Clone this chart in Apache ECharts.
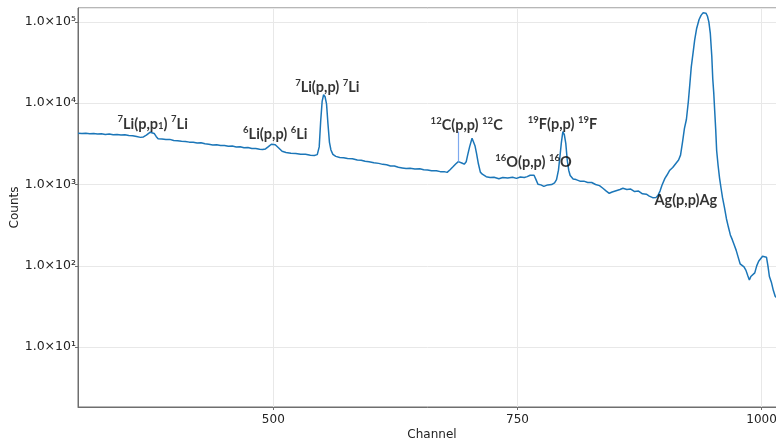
<!DOCTYPE html>
<html>
<head>
<meta charset="utf-8">
<script src="https://cdn.jsdelivr.net/npm/echarts@6/dist/echarts.min.js"></script>
<style>html,body{margin:0;padding:0;background:#fff}#c{width:776px;height:441px}</style>
</head>
<body>
<div id="c"></div>
<script>
// Spectrum data
var channels = [300,304,308,312,316,320,324,328,332,336,340,344,348,352,356,360,364,367,370,372,374,376,378,380,382,386,390,394,398,402,406,410,414,418,422,426,430,434,438,442,446,450,454,458,462,466,470,474,478,482,486,489,492,495,498,500,502,505,509,513,518,523,528,533,538,542,545,547,548.5,550,551.5,553,554.5,556,557.5,559,561,564,568,572,576,581,586,590,594,598,603,608,612,616,620,624,628,632,636,640,645,650,654,658,662,667,671,675,678,681,684,687,689.5,691,693,695.5,697.5,699,701,703.5,705,706.5,708,710,712,714,718,722,726,731,735,740,745,749,753,757,760,763,765,767,769,771,774,777,781,785,788,790,792,793.5,795,796.5,798,799.5,801,802.5,804,807,810,814,818,822,826,830,834,837.5,841,844,847,851,855,858,862,866,870,874,878,882,885,888.5,892,894,896,898,901,903,906,909,912,915,917,919,921,923,925,926.5,928,930,931.5,933.5,936,938,940,941.5,943,944.5,946,947.5,949,950,951,952,953,954,955.5,957,958.5,960,962,964,966,968,970,972,974,976,978,980,982,984,986,987.5,989,991,993,995,997,999,1001,1003,1005,1006.5,1008,1010,1012,1014,1016,1020,1025];
var counts = [4280,4240,4270,4220,4250,4170,4200,4130,4180,4090,4120,4050,4090,4000,3990,3900,3800,3850,4050,4250,4400,4420,4250,3900,3660,3640,3580,3590,3470,3460,3400,3390,3320,3310,3250,3260,3170,3130,3070,3090,3010,3020,2950,2970,2900,2910,2830,2850,2780,2770,2710,2690,2740,2920,3130,3170,3090,2850,2560,2480,2420,2410,2360,2350,2290,2280,2330,2900,6000,10500,12700,12000,9800,5500,3300,2660,2350,2220,2150,2140,2090,2080,2000,1990,1930,1900,1850,1820,1770,1750,1690,1690,1630,1600,1570,1580,1550,1560,1520,1510,1480,1480,1440,1440,1410,1520,1650,1800,1910,1900,1840,1780,1900,2300,2900,3710,3550,3000,2450,1800,1420,1340,1250,1220,1230,1180,1220,1200,1230,1190,1240,1220,1250,1300,1340,1300,1150,1010,990,950,990,1000,1050,1150,1500,2200,3300,4480,4100,3200,2000,1500,1290,1170,1150,1100,1100,1060,1060,1000,970,900,830,780,810,840,870,900,870,880,820,830,770,760,720,690,695,740,830,980,1190,1300,1500,1620,1800,2000,2300,3300,4900,6300,10500,17000,28000,43000,60000,83000,107000,120000,129000,131500,128000,118000,100000,72000,38000,20000,13500,8000,4800,2600,1700,1190,900,690,520,380,300,240,210,180,155,128,106,103,97,88,75,67,74,71,82,100,114,112,131,127,128,100,74,63,50,42,40,37,35];

// Axis ticks
var xTicks = [500, 750, 1000];
var yMin = 1.84, yMax = 148000;
var xMin = 300, xMax = 1025;

// Annotations (rich text) and their anchor in data coordinates
var annotationText = [
  '{s|7}{b|Li(p,p}{d|1}{b|) }{s|7}{b|Li}',
  '{s|6}{b|Li(p,p) }{s|6}{b|Li}',
  '{s|7}{b|Li(p,p) }{s|7}{b|Li}',
  '{s|12}{b|C(p,p) }{s|12}{b|C}',
  '{s|16}{b|O(p,p) }{s|16}{b|O}',
  '{s|19}{b|F(p,p) }{s|19}{b|F}',
  '{b|Ag(p,p)Ag}'
];
var annotationChannel = [376.5, 502, 555.3, 698, 766.4, 796.1, 922.4];
var annotationCounts  = [5730, 4280, 16070, 5420, 1910, 5680, 656];

// Pointer line for the 12C label
var pointerChannel = 689.5;
var pointerCounts = [1910, 4480];

var sup = {'0':'⁰','1':'¹','2':'²','3':'³','4':'⁴','5':'⁵','6':'⁶','7':'⁷','8':'⁸','9':'⁹'};

var spectrum = channels.map(function (c, i) { return [c, counts[i]]; });
var notes = annotationText.map(function (t, i) {
  return { value: [annotationChannel[i], annotationCounts[i]], label: { formatter: t } };
});

var chart = echarts.init(document.getElementById('c'), null, { renderer: 'canvas' });
var font = 'DejaVu Sans';
var lf = 'Lato';
chart.setOption({
  animation: false,
  backgroundColor: '#fff',
  grid: { left: 78, right: -10, top: 8, bottom: 34, outerBoundsMode: 'none', containLabel: false, show: true, borderColor: '#6e6e6e', borderWidth: 1, backgroundColor: 'transparent' },
  xAxis: {
    type: 'value', min: xMin, max: xMax,
    name: 'Channel', nameLocation: 'middle', nameGap: 22, nameMoveOverlap: false,
    nameTextStyle: { fontFamily: font, fontSize: 12, color: '#222', verticalAlign: 'top' },
    axisLine: { show: true, lineStyle: { color: '#6e6e6e', width: 1 } },
    axisTick: { show: true, length: 3, customValues: xTicks, lineStyle: { color: '#6e6e6e' } },
    axisLabel: { customValues: xTicks, margin: 7, fontFamily: font, fontSize: 12, color: '#222', formatter: function (v) { return String(v); } },
    splitLine: { show: true, lineStyle: { color: '#e8e8e8', width: 1 } }
  },
  yAxis: {
    type: 'log', logBase: 10, min: yMin, max: yMax,
    name: 'Counts', nameLocation: 'middle', nameGap: 57, nameRotate: 90, nameMoveOverlap: false,
    nameTextStyle: { fontFamily: font, fontSize: 12, color: '#222' },
    axisLine: { show: true, lineStyle: { color: '#6e6e6e', width: 1 } },
    axisTick: { show: true, length: 3, lineStyle: { color: '#6e6e6e' } },
    axisLabel: {
      margin: 2, fontFamily: font, fontSize: 12.5, color: '#222',
      showMinLabel: false, showMaxLabel: false,
      formatter: function (v) {
        var l = Math.log10(v), n = Math.round(l);
        if (Math.abs(l - n) > 1e-6) return '';
        return '1.0×10' + String(n).split('').map(function (d) { return sup[d]; }).join('');
      }
    },
    splitLine: { show: true, lineStyle: { color: '#e8e8e8', width: 1 } }
  },
  series: [
    {
      type: 'line', data: spectrum, showSymbol: false, symbol: 'none',
      lineStyle: { color: '#1b76b8', width: 1.5 }, z: 3,
      markLine: {
        silent: true, symbol: 'none', label: { show: false },
        lineStyle: { color: '#7fa9ee', width: 1.2, type: 'solid' },
        data: [[{ coord: [pointerChannel, pointerCounts[0]] }, { coord: [pointerChannel, pointerCounts[1]] }]]
      }
    },
    {
      type: 'scatter', data: notes, symbolSize: 0, z: 5, silent: true,
      label: {
        show: true, position: 'inside', color: '#000',
        rich: {
          b: { fontFamily: lf, fontWeight: 'bold', fontSize: 14.5, color: '#000', verticalAlign: 'bottom', lineHeight: 17 },
          s: { fontFamily: lf, fontWeight: 'bold', fontSize: 9.5, color: '#000', verticalAlign: 'top', lineHeight: 12 },
          d: { fontFamily: lf, fontWeight: 'bold', fontSize: 9.5, color: '#000', verticalAlign: 'bottom', lineHeight: 9 }
        }
      }
    }
  ]
});
</script>
</body>
</html>
